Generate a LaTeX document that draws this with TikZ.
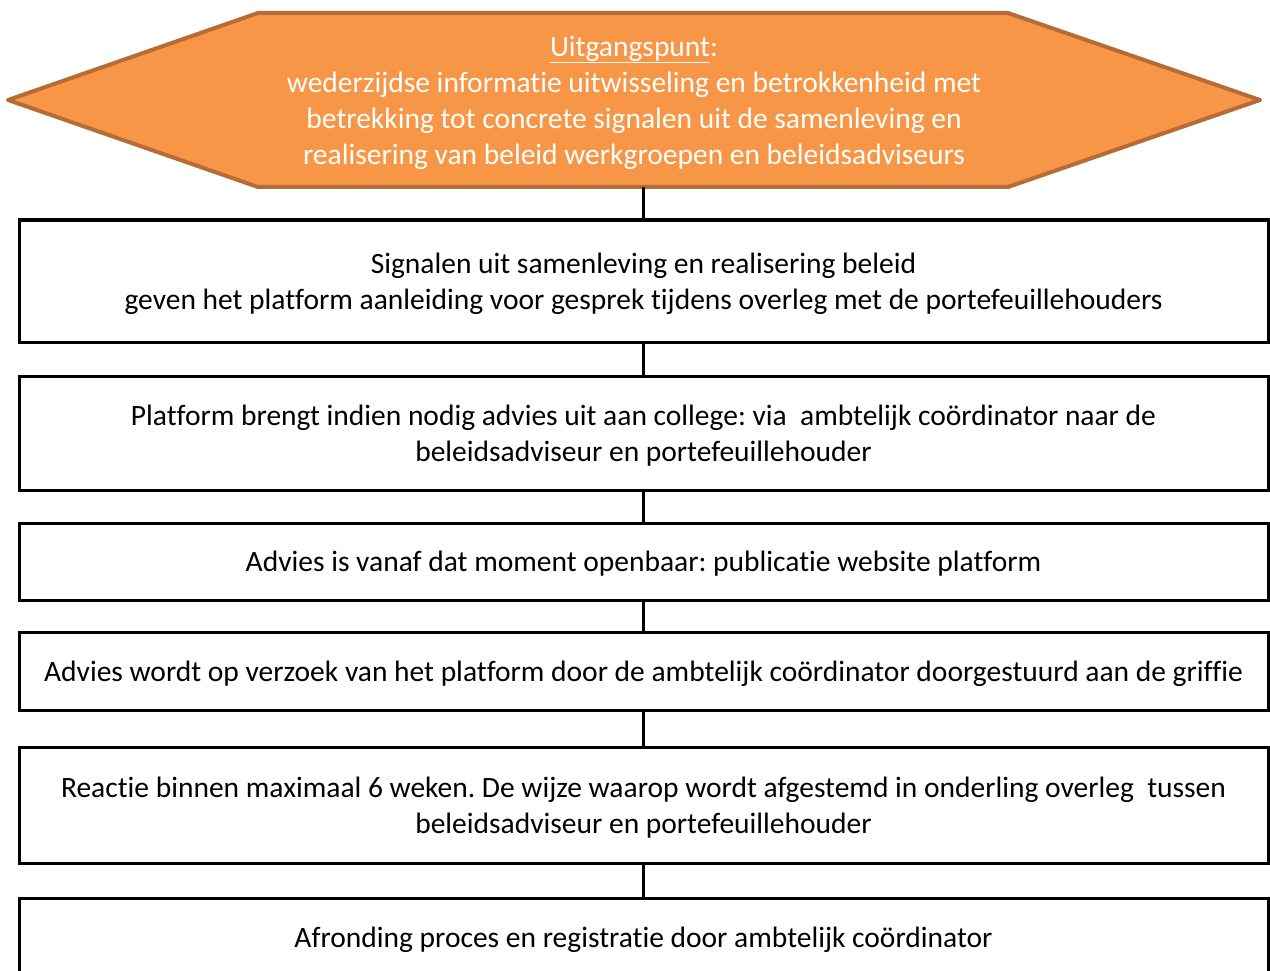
\documentclass[tikz,border=0pt]{standalone}
\usepackage{fontspec}
\setmainfont[Ligatures=NoCommon]{Carlito}
\frenchspacing
\usetikzlibrary{positioning}
\definecolor{oranje}{RGB}{247,150,70}
\definecolor{oranjerand}{RGB}{182,108,52}
\newcommand{\rs}{\rule[-7.9pt]{0pt}{36pt}}
\tikzset{regels/.style={align=center, font=\fontsize{29.5}{36}\selectfont},
stap/.style={regels, draw=black, line width=3pt, minimum width=1249pt, inner sep=0pt}}
\begin{document}
\begin{tikzpicture}[x=1pt, y=-1pt, lijn/.style={line width=3pt}]
	\clip (0,0) rectangle (1270,971);
	% zeshoek met het uitgangspunt
	\draw[fill=oranje, draw=oranjerand, line width=4pt, line join=round]
		(8,100) -- (258,13) -- (1008,13) -- (1260,100) -- (1008,187) -- (258,187) -- cycle;
	\node[regels, text=white, minimum width=1252pt, minimum height=174pt, inner sep=0pt] (uitgang) at (634,100)
		{\rs\underline{Uitgangspunt}:\\wederzijdse informatie uitwisseling en betrokkenheid met\\betrekking tot concrete signalen uit de samenleving en\\realisering van beleid werkgroepen en beleidsadviseurs\rs};
	\node[stap, minimum height=122pt] (signalen) at (643.5,281)
		{\rs Signalen uit samenleving en realisering beleid\\geven het platform aanleiding voor gesprek tijdens overleg met de portefeuillehouders\rs};
	\node[stap, minimum height=114pt] (advies) at (643.5,433)
		{\rs Platform brengt indien nodig advies uit aan college: via\ \ ambtelijk coördinator naar de\\beleidsadviseur en portefeuillehouder\rs};
	\node[stap, minimum height=77pt] (openbaar) at (643.5,561.5)
		{\rs Advies is vanaf dat moment openbaar: publicatie website platform};
	\node[stap, minimum height=78pt] (griffie) at (643.5,671)
		{\rs Advies wordt op verzoek van het platform door de ambtelijk coördinator doorgestuurd aan de griffie};
	\node[stap, minimum height=116pt] (reactie) at (643.5,805)
		{\rs Reactie binnen maximaal 6 weken. De wijze waarop wordt afgestemd in onderling overleg\ \ tussen\\beleidsadviseur en portefeuillehouder\rs};
	\node[stap, minimum height=78pt] (afronding) at (643.5,937)
		{\rs Afronding proces en registratie door ambtelijk coördinator};
	% verbindingen
	\draw[lijn] (signalen.north |- uitgang.south) -- (signalen.north);
	\draw[lijn] (signalen) -- (advies);
	\draw[lijn] (advies) -- (openbaar);
	\draw[lijn] (openbaar) -- (griffie);
	\draw[lijn] (griffie) -- (reactie);
	\draw[lijn] (reactie) -- (afronding);
\end{tikzpicture}
\end{document}
